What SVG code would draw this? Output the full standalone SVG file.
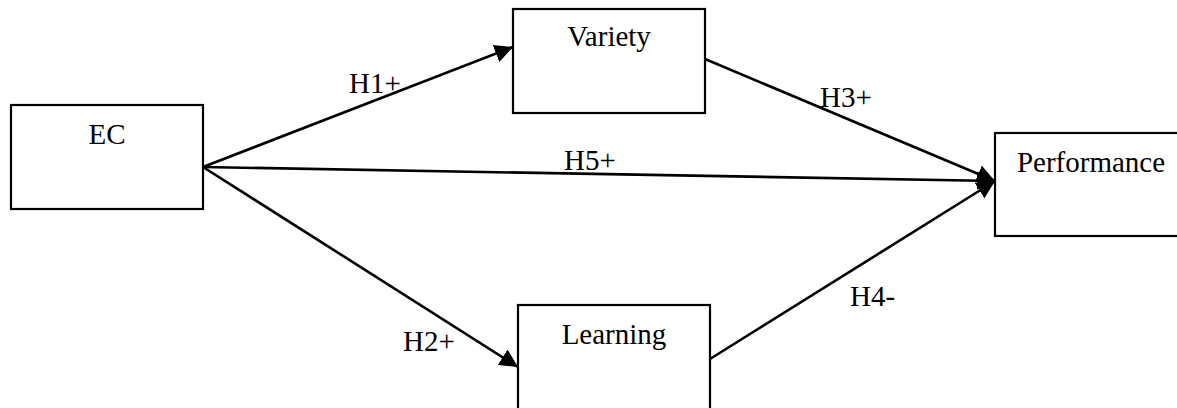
<svg xmlns="http://www.w3.org/2000/svg" width="1177" height="408" viewBox="0 0 1177 408">
  <style>
    .box { fill: #fff; stroke: #000; stroke-width: 2.2; }
    .lbl { font-family: "Liberation Serif", "Times New Roman", serif; font-size: 29px; fill: #000; }
    .mid { text-anchor: middle; }
    .edge { stroke: #000; stroke-width: 2.6; fill: none; }
  </style>
  <defs>
    <marker id="arrow" viewBox="0 0 10 10" refX="10" refY="5" markerWidth="7" markerHeight="7" markerUnits="strokeWidth" orient="auto">
      <path d="M0,0 L10,5 L0,10 Z" fill="#000"/>
    </marker>
  </defs>
  <rect width="1177" height="408" fill="#fff"/>

  <g id="connectors">
    <line class="edge" x1="203" y1="167" x2="513" y2="47" marker-end="url(#arrow)"/>
    <line class="edge" x1="203" y1="167" x2="518" y2="367" marker-end="url(#arrow)"/>
    <line class="edge" x1="203" y1="167" x2="995" y2="181" marker-end="url(#arrow)"/>
    <line class="edge" x1="705" y1="59" x2="995" y2="181" marker-end="url(#arrow)"/>
    <line class="edge" x1="710" y1="359" x2="995" y2="181" marker-end="url(#arrow)"/>
    <text class="lbl" x="349" y="93">H1+</text>
    <text class="lbl" x="403" y="351">H2+</text>
    <text class="lbl" x="820" y="107">H3+</text>
    <text class="lbl" x="850" y="306">H4-</text>
    <text class="lbl" x="564" y="170">H5+</text>
  </g>

  <g id="ec">
    <rect class="box" x="11" y="105" width="192" height="104"/>
    <text class="lbl mid" x="107" y="144">EC</text>
  </g>
  <g id="variety">
    <rect class="box" x="513" y="9" width="192" height="104"/>
    <text class="lbl mid" x="609" y="46">Variety</text>
  </g>
  <g id="learning">
    <rect class="box" x="518" y="305" width="192" height="115"/>
    <text class="lbl mid" x="614" y="344">Learning</text>
  </g>
  <g id="performance">
    <rect class="box" x="995" y="133" width="192" height="103"/>
    <text class="lbl mid" x="1091" y="172">Performance</text>
  </g>
</svg>
